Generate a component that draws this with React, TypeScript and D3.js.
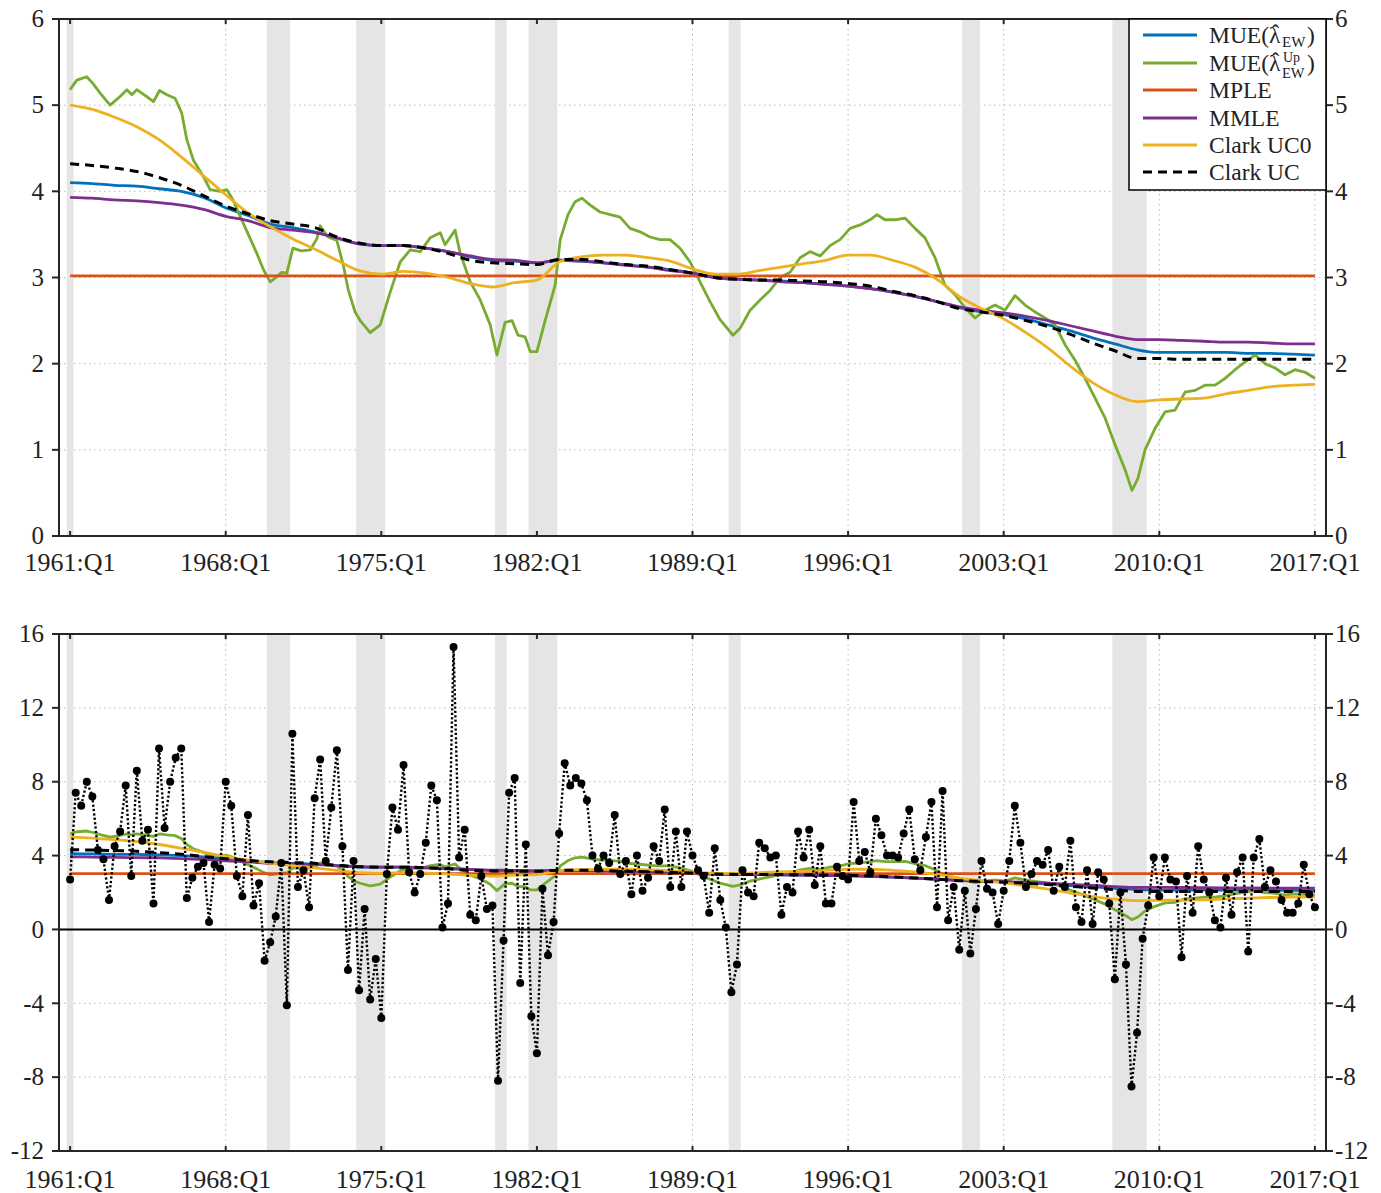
import React from 'react';
import * as d3 from 'd3';

// ---------- DATA ----------
// Quarterly real GDP growth (annualized), 1961:Q1 .. 2017:Q1
const growth: number[] = [
  2.7, 7.4, 6.7, 8.0, 7.2, 4.3, 3.8, 1.6, 4.5, 5.3, 7.8, 2.9, 8.6, 4.8, 5.4, 1.4,
  9.8, 5.5, 8.0, 9.3, 9.8, 1.7, 2.8, 3.4, 3.6, 0.4, 3.5, 3.3, 8.0, 6.7, 2.9, 1.8,
  6.2, 1.3, 2.5, -1.7, -0.7, 0.7, 3.6, -4.1, 10.6, 2.3, 3.2, 1.2, 7.1, 9.2, 3.7, 6.6,
  9.7, 4.5, -2.2, 3.7, -3.3, 1.1, -3.8, -1.6, -4.8, 3.0, 6.6, 5.4, 8.9, 3.1, 2.0, 3.0,
  4.7, 7.8, 7.0, 0.1, 1.4, 15.3, 3.9, 5.4, 0.8, 0.5, 2.9, 1.1, 1.3, -8.2, -0.6, 7.4,
  8.2, -2.9, 4.6, -4.7, -6.7, 2.2, -1.4, 0.4, 5.2, 9.0, 7.8, 8.2, 7.9, 7.0, 4.0, 3.3,
  4.0, 3.6, 6.2, 3.0, 3.7, 1.9, 4.0, 2.1, 2.8, 4.5, 3.7, 6.5, 2.3, 5.3, 2.3, 5.3,
  4.0, 3.2, 2.9, 0.9, 4.4, 1.6, 0.1, -3.4, -1.9, 3.2, 2.0, 1.8, 4.7, 4.4, 3.9, 4.0,
  0.8, 2.3, 2.0, 5.3, 3.9, 5.4, 2.4, 4.5, 1.4, 1.4, 3.4, 2.9, 2.7, 6.9, 3.7, 4.2,
  3.1, 6.0, 5.1, 4.0, 4.0, 3.9, 5.2, 6.5, 3.8, 3.2, 5.0, 6.9, 1.2, 7.5, 0.5, 2.3,
  -1.1, 2.1, -1.3, 1.1, 3.7, 2.2, 2.0, 0.3, 2.1, 3.7, 6.7, 4.7, 2.3, 3.0, 3.7, 3.5,
  4.3, 2.1, 3.4, 2.3, 4.8, 1.2, 0.4, 3.2, 0.3, 3.1, 2.7, 1.4, -2.7, 2.0, -1.9, -8.5,
  -5.6, -0.5, 1.3, 3.9, 1.8, 3.9, 2.7, 2.6, -1.5, 2.9, 0.9, 4.5, 2.7, 2.0, 0.5, 0.1,
  2.8, 0.8, 3.1, 3.9, -1.2, 3.9, 4.9, 2.3, 3.2, 2.6, 1.6, 0.9, 0.9, 1.4, 3.5, 1.9,
  1.2,
];

// Smooth trend estimates sampled at each year's Q1, 1961..2017
const lineYears: number[] = d3.range(1961, 2018);
const mueEW: number[] = [
  4.10, 4.09, 4.07, 4.06, 4.03, 4.00, 3.93, 3.81, 3.72, 3.62, 3.58, 3.53, 3.46, 3.39, 3.37, 3.37,
  3.34, 3.30, 3.24, 3.20, 3.19, 3.17, 3.20, 3.19, 3.17, 3.15, 3.12, 3.09, 3.05, 3.00, 2.98, 2.97,
  2.96, 2.94, 2.92, 2.90, 2.87, 2.83, 2.78, 2.72, 2.65, 2.60, 2.57, 2.52, 2.45, 2.38, 2.30, 2.23,
  2.16, 2.13, 2.13, 2.13, 2.13, 2.12, 2.12, 2.11, 2.10,
];
const mmle: number[] = [
  3.93, 3.92, 3.90, 3.89, 3.87, 3.84, 3.79, 3.71, 3.66, 3.58, 3.55, 3.52, 3.46, 3.39, 3.37, 3.37,
  3.34, 3.30, 3.25, 3.21, 3.20, 3.17, 3.20, 3.19, 3.17, 3.14, 3.12, 3.08, 3.05, 3.00, 2.98, 2.97,
  2.95, 2.94, 2.92, 2.90, 2.87, 2.83, 2.78, 2.72, 2.66, 2.62, 2.59, 2.55, 2.50, 2.44, 2.38, 2.32,
  2.28, 2.28, 2.27, 2.26, 2.25, 2.25, 2.24, 2.23, 2.23,
];
const clarkUC: number[] = [
  4.32, 4.30, 4.27, 4.23, 4.16, 4.07, 3.95, 3.83, 3.74, 3.66, 3.62, 3.58, 3.47, 3.40, 3.37, 3.37,
  3.34, 3.28, 3.20, 3.17, 3.16, 3.15, 3.21, 3.21, 3.18, 3.15, 3.13, 3.09, 3.05, 3.00, 2.98, 2.97,
  2.97, 2.96, 2.95, 2.93, 2.90, 2.84, 2.79, 2.72, 2.64, 2.60, 2.56, 2.50, 2.43, 2.34, 2.24, 2.15,
  2.06, 2.06, 2.05, 2.05, 2.05, 2.05, 2.05, 2.05, 2.05,
];
const clarkUC0: number[] = [
  5.00, 4.95, 4.86, 4.75, 4.60, 4.40, 4.18, 3.96, 3.75, 3.59, 3.45, 3.33, 3.20, 3.08, 3.04, 3.07,
  3.05, 3.00, 2.93, 2.89, 2.94, 2.97, 3.18, 3.24, 3.26, 3.26, 3.23, 3.19, 3.10, 3.04, 3.04, 3.08,
  3.12, 3.16, 3.20, 3.26, 3.26, 3.20, 3.12, 2.98, 2.78, 2.64, 2.52, 2.36, 2.18, 1.97, 1.78, 1.64,
  1.56, 1.58, 1.59, 1.60, 1.65, 1.69, 1.73, 1.75, 1.76,
];
const mpleYears: number[] = [1961, 2017];
const mple: number[] = [3.02, 3.02];

// MUE(lambda_EW^Up): knots (decimal year, value)
const greenT: number[] = [
  1961.0, 1961.3, 1961.75, 1962.03, 1962.35, 1962.8, 1963.25, 1963.55, 1963.78, 1964.0, 1964.45, 1964.75,
  1965.02, 1965.35, 1965.72, 1966.02, 1966.25, 1966.55, 1967.0, 1967.3, 1967.75, 1968.05, 1968.33, 1968.65,
  1969.0, 1969.4, 1969.7, 1970.0, 1970.3, 1970.52, 1970.75, 1971.02, 1971.4, 1971.8, 1972.1, 1972.25,
  1972.6, 1973.0, 1973.3, 1973.52, 1973.82, 1974.05, 1974.5, 1974.95, 1975.4, 1975.85, 1976.3, 1976.75,
  1977.2, 1977.65, 1977.87, 1978.32, 1978.55, 1979.0, 1979.45, 1979.9, 1980.2, 1980.57, 1980.88, 1981.15,
  1981.47, 1981.7, 1982.0, 1982.37, 1982.82, 1983.05, 1983.4, 1983.72, 1984.03, 1984.4, 1984.84, 1985.3,
  1985.74, 1986.19, 1986.64, 1987.09, 1987.54, 1987.99, 1988.44, 1988.89, 1989.34, 1989.79, 1990.24, 1990.82,
  1991.14, 1991.59, 1992.04, 1992.49, 1992.94, 1993.39, 1993.84, 1994.29, 1994.74, 1995.19, 1995.64, 1996.09,
  1996.54, 1996.99, 1997.3, 1997.66, 1998.11, 1998.56, 1999.01, 1999.46, 1999.91, 2000.36, 2000.81, 2001.26,
  2001.71, 2002.16, 2002.61, 2003.06, 2003.51, 2003.96, 2004.41, 2004.86, 2005.31, 2005.76, 2006.21, 2006.66,
  2007.11, 2007.56, 2008.01, 2008.46, 2008.77, 2009.04, 2009.36, 2009.81, 2010.26, 2010.71, 2011.16, 2011.61,
  2012.06, 2012.51, 2012.96, 2013.41, 2013.86, 2014.31, 2014.76, 2015.21, 2015.66, 2016.11, 2016.56, 2017.0,
];
const greenV: number[] = [
  5.18, 5.29, 5.33, 5.25, 5.14, 5.00, 5.10, 5.18, 5.12, 5.18, 5.10, 5.04,
  5.17, 5.12, 5.08, 4.91, 4.60, 4.36, 4.17, 4.02, 4.00, 4.02, 3.90, 3.71,
  3.51, 3.28, 3.09, 2.95, 3.01, 3.06, 3.05, 3.34, 3.31, 3.32, 3.45, 3.60,
  3.47, 3.43, 3.13, 2.85, 2.60, 2.50, 2.36, 2.45, 2.83, 3.18, 3.32, 3.30,
  3.46, 3.52, 3.38, 3.55, 3.28, 2.95, 2.74, 2.45, 2.10, 2.48, 2.50, 2.33,
  2.31, 2.14, 2.14, 2.50, 2.91, 3.44, 3.73, 3.88, 3.92, 3.84, 3.76, 3.73,
  3.70, 3.57, 3.53, 3.47, 3.44, 3.44, 3.34, 3.18, 2.95, 2.72, 2.51, 2.33,
  2.41, 2.62, 2.74, 2.85, 3.00, 3.06, 3.23, 3.30, 3.25, 3.37, 3.44, 3.57,
  3.61, 3.67, 3.73, 3.67, 3.67, 3.69, 3.57, 3.46, 3.23, 2.91, 2.80, 2.65,
  2.53, 2.62, 2.68, 2.62, 2.79, 2.68, 2.60, 2.53, 2.45, 2.22, 2.04, 1.83,
  1.60, 1.37, 1.06, 0.77, 0.53, 0.67, 1.00, 1.25, 1.44, 1.46, 1.67, 1.69,
  1.75, 1.75, 1.83, 1.93, 2.02, 2.10, 2.00, 1.95, 1.87, 1.93, 1.90, 1.83,
];

const recessions: [number, number][] = [
  [1960.85, 1961.15], [1969.85, 1970.9], [1973.87, 1975.17], [1980.12, 1980.64],
  [1981.62, 1982.92], [1990.63, 1991.17], [2001.13, 2001.94], [2007.89, 2009.43],
];

const xTickYears: number[] = [1961, 1968, 1975, 1982, 1989, 1996, 2003, 2010, 2017];
const xTickLabels: string[] = ['1961:Q1', '1968:Q1', '1975:Q1', '1982:Q1', '1989:Q1', '1996:Q1', '2003:Q1', '2010:Q1', '2017:Q1'];
const topTicks: number[] = [0, 1, 2, 3, 4, 5, 6];
const bottomTicks: number[] = [-12, -8, -4, 0, 4, 8, 12, 16];

// ---------- STYLE ----------
const C_BLUE = '#0072BD';
const C_GREEN = '#77AC30';
const C_RED = '#D95319';
const C_PURPLE = '#7E2F8E';
const C_YELLOW = '#EDB120';
const AXIS = '#262626';
const FONT = '"Liberation Serif", "Times New Roman", serif';

const X0 = 59;
const X1 = 1326;
const x = d3.scaleLinear().domain([1960.5, 2017.5]).range([X0, X1]);
const quarterDate = (i: number) => 1961 + i / 4;

type PanelProps = {
  yTop: number;
  yBot: number;
  domain: [number, number];
  ticks: number[];
  labelY: number;
  bottomPanel: boolean;
  id: string;
};

function Panel({ yTop, yBot, domain, ticks, labelY, bottomPanel, id }: PanelProps) {
  const y = d3.scaleLinear().domain(domain).range([yBot, yTop]);
  const smooth = (vals: number[]) =>
    d3.line<number>().x((_, i) => x(lineYears[i])).y((v) => y(v)).curve(d3.curveMonotoneX)(vals) || '';
  const greenPath = d3.line<number>().x((_, i) => x(greenT[i])).y((v) => y(v))(greenV) || '';
  const mplePath = d3.line<number>().x((_, i) => x(mpleYears[i])).y((v) => y(v))(mple) || '';
  const growthPath = d3.line<number>().x((_, i) => x(quarterDate(i))).y((v) => y(v))(growth) || '';
  const lw = 2.8;
  return (
    <g>
      <defs>
        <clipPath id={id}>
          <rect x={X0} y={yTop} width={X1 - X0} height={yBot - yTop} />
        </clipPath>
      </defs>
      {/* grid */}
      <g stroke="#b8b8b8" strokeWidth={1} strokeDasharray="1.5,3.5">
        {xTickYears.map((t) => (
          <line key={'gx' + t} x1={x(t)} x2={x(t)} y1={yTop} y2={yBot} />
        ))}
        {ticks
          .filter((t) => t !== domain[0] && t !== domain[1] && !(bottomPanel && t === 0))
          .map((t) => (
            <line key={'gy' + t} x1={X0} x2={X1} y1={y(t)} y2={y(t)} />
          ))}
      </g>
      {/* recessions */}
      <g clipPath={`url(#${id})`}>
        {recessions.map(([a, b], i) => (
          <rect key={'r' + i} x={x(a)} y={yTop} width={x(b) - x(a)} height={yBot - yTop} fill="#e5e5e5" />
        ))}
      </g>
      {bottomPanel && <line x1={X0} x2={X1} y1={y(0)} y2={y(0)} stroke="#000" strokeWidth={2} />}
      <g clipPath={`url(#${id})`} fill="none" strokeLinejoin="round">
        <path d={smooth(mueEW)} stroke={C_BLUE} strokeWidth={lw} />
        <path d={greenPath} stroke={C_GREEN} strokeWidth={lw} />
        <path d={mplePath} stroke={C_RED} strokeWidth={lw} />
        <path d={smooth(mmle)} stroke={C_PURPLE} strokeWidth={lw} />
        <path d={smooth(clarkUC0)} stroke={C_YELLOW} strokeWidth={lw} />
        <path d={smooth(clarkUC)} stroke="#000" strokeWidth={3} strokeDasharray="9,6" />
        {bottomPanel && (
          <g>
            <path d={growthPath} stroke="#000" strokeWidth={2.4} strokeDasharray="2.2,2.2" />
            {growth.map((v, i) => (
              <circle key={'d' + i} cx={x(quarterDate(i))} cy={y(v)} r={4} fill="#000" />
            ))}
          </g>
        )}
      </g>
      {/* axes box */}
      <rect x={X0} y={yTop} width={X1 - X0} height={yBot - yTop} fill="none" stroke={AXIS} strokeWidth={2} />
      {xTickYears.map((t) => (
        <g key={'xt' + t} stroke={AXIS} strokeWidth={2}>
          <line x1={x(t)} x2={x(t)} y1={yBot} y2={yBot - 5} />
          <line x1={x(t)} x2={x(t)} y1={yTop} y2={yTop + 5} />
        </g>
      ))}
      {ticks.map((t) => (
        <g key={'yt' + t} stroke={AXIS} strokeWidth={2}>
          <line x1={X0 - 7} x2={X0} y1={y(t)} y2={y(t)} />
          <line x1={X1} x2={X1 + 7} y1={y(t)} y2={y(t)} />
        </g>
      ))}
      <g fontFamily={FONT} fontSize={25} fill="#222">
        {ticks.map((t) => (
          <text key={'yl' + t} x={X0 - 15} y={y(t)} dy="0.33em" textAnchor="end">
            {t}
          </text>
        ))}
        {ticks.map((t) => (
          <text key={'yr' + t} x={X1 + 9} y={y(t)} dy="0.33em" textAnchor="start">
            {t}
          </text>
        ))}
        {xTickYears.map((t, i) => (
          <text key={'xl' + t} x={x(t)} y={labelY} textAnchor="middle" fontSize={26}>
            {xTickLabels[i]}
          </text>
        ))}
      </g>
    </g>
  );
}

function Legend() {
  const lx = 1129;
  const ly = 19;
  const rows = [35, 63, 90, 118, 145, 172];
  const colors = [C_BLUE, C_GREEN, C_RED, C_PURPLE, C_YELLOW, '#000'];
  const tx = 1209;
  const lamX = 1269;
  const subX = 1282;
  const parX = 1307;
  return (
    <g>
      <rect x={lx} y={ly} width={X1 - lx} height={171} fill="#fff" stroke="#000" strokeWidth={1.5} />
      {rows.map((ry, i) => (
        <line
          key={'lg' + i}
          x1={1143}
          x2={1197}
          y1={ry}
          y2={ry}
          stroke={colors[i]}
          strokeWidth={i === 5 ? 3 : 2.8}
          strokeDasharray={i === 5 ? '9,6' : undefined}
        />
      ))}
      <g fontFamily={FONT} fontSize={23.5} fill="#222">
        {/* MUE(lambda-hat_EW) */}
        <text x={tx} y={rows[0] + 8}>MUE(</text>
        <text x={lamX} y={rows[0] + 8}>λ</text>
        <text x={lamX + 6.5} y={rows[0] + 6} textAnchor="middle">ˆ</text>
        <text x={subX} y={rows[0] + 12} fontSize={15}>EW</text>
        <text x={parX} y={rows[0] + 8}>)</text>
        {/* MUE(lambda-hat_EW^Up) */}
        <text x={tx} y={rows[1] + 8}>MUE(</text>
        <text x={lamX} y={rows[1] + 8}>λ</text>
        <text x={lamX + 6.5} y={rows[1] + 6} textAnchor="middle">ˆ</text>
        <text x={subX + 1} y={rows[1] - 1.5} fontSize={14}>Up</text>
        <text x={subX} y={rows[1] + 14.5} fontSize={14.5}>EW</text>
        <text x={parX} y={rows[1] + 8}>)</text>
        <text x={tx} y={rows[2] + 8}>MPLE</text>
        <text x={tx} y={rows[3] + 8}>MMLE</text>
        <text x={tx} y={rows[4] + 8}>Clark UC0</text>
        <text x={tx} y={rows[5] + 8}>Clark UC</text>
      </g>
    </g>
  );
}

export default function App() {
  return (
    <svg
      width={1381}
      height={1193}
      style={{ position: 'absolute', left: 0, top: 0, background: '#fff' }}
      xmlns="http://www.w3.org/2000/svg"
    >
      <rect x={0} y={0} width={1381} height={1193} fill="#fff" />
      <Panel yTop={19} yBot={536} domain={[0, 6]} ticks={topTicks} labelY={571} bottomPanel={false} id="clipTop" />
      <Panel yTop={634} yBot={1151} domain={[-12, 16]} ticks={bottomTicks} labelY={1188} bottomPanel={true} id="clipBot" />
      <Legend />
    </svg>
  );
}
